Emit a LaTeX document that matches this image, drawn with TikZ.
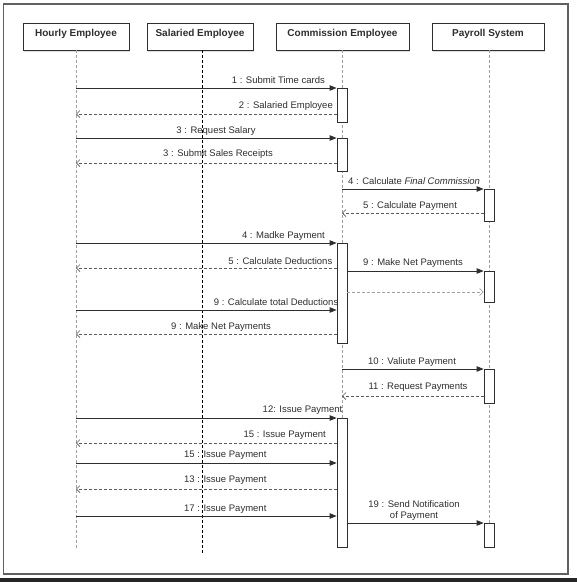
\documentclass[tikz,border=0pt]{standalone}
\usepackage{fontspec}
\setmainfont{Liberation Sans}
\usetikzlibrary{arrows.meta,calc,shadows}

\definecolor{ink}{HTML}{2E2E2E}
\definecolor{retgray}{HTML}{5A5A5A}
\definecolor{lifegray}{HTML}{A0A0A0}
\definecolor{framegray}{HTML}{606060}

\begin{document}
\begin{tikzpicture}[x=1pt,y=-1pt,
  head/.style={draw=ink, line width=0.8pt, fill=white, minimum width=#1,
    minimum height=27pt, inner sep=0pt, text height=7.2pt, text depth=7pt,
    font=\fontsize{10}{12}\selectfont\bfseries, text=ink,
    drop shadow={shadow xshift=1.2pt, shadow yshift=-1.5pt, fill=black, opacity=0.12}},
  life/.style={draw=lifegray, line width=0.7pt, dash pattern=on 3pt off 2pt},
  lifedark/.style={draw=black, line width=0.8pt, dash pattern=on 3pt off 2pt},
  act/.style={draw=ink, fill=white, line width=0.8pt, minimum width=10pt,
    inner sep=0pt, anchor=north},
  sync/.style={draw=ink, line width=0.8pt, -{Triangle[length=7pt,width=5.5pt]}},
  ret/.style={draw=retgray, line width=0.7pt, dash pattern=on 3pt off 2pt,
    -{Straight Barb[length=3.5pt,width=7pt]}},
  lbl/.style={font=\fontsize{9.5}{11}\selectfont, inner sep=0pt, text=ink},
]
\useasboundingbox (0,0) rectangle (577,582);

% outer frame and the bar along the bottom edge
\draw[framegray, line width=1.2pt] (3.5,4) rectangle (568,574);
\fill[black!85] (0,578) rectangle (577,582);

% lifeline axes
\coordinate (H) at (76,0);
\coordinate (S) at (202,0);
\coordinate (C) at (342,0);
\coordinate (P) at (489,0);

% participants
\node[head=106pt] (hourly)     at (76,36.5)  {Hourly Employee};
\node[head=106pt] (salaried)   at (200,36.5) {Salaried Employee};
\node[head=133pt] (commission) at (342.5,36.5) {Commission Employee};
\node[head=112pt] (payroll)    at (488,36.5) {Payroll System};

% lifelines
\draw[life]     (H |- hourly.south)     -- (H |- 0,550);
\draw[lifedark] (S |- salaried.south)   -- (S |- 0,554);
\draw[life]     (C |- commission.south) -- (C |- 0,550);
\draw[life]     (P |- payroll.south)    -- (P |- 0,550);

% activation bars
\node[act, minimum height=34pt]  (a1) at (342,88)  {};
\node[act, minimum height=33pt]  (a2) at (342,138) {};
\node[act, minimum height=100pt] (a3) at (342,243) {};
\node[act, minimum height=129pt] (a4) at (342,418) {};
\node[act, minimum height=32pt]  (p1) at (489,189) {};
\node[act, minimum height=31pt]  (p2) at (489,271) {};
\node[act, minimum height=34pt]  (p3) at (489,369) {};
\node[act, minimum height=24pt]  (p4) at (489,523) {};

% messages
\draw[sync] (H |- 0,88)  -- (a1.west |- 0,88);
\draw[ret]  (a1.west |- 0,114) -- (H |- 0,114);
\draw[sync] (H |- 0,138) -- (a2.west |- 0,138);
\draw[ret]  (a2.west |- 0,163) -- (H |- 0,163);
\draw[sync] (C |- 0,189) -- (p1.west |- 0,189);
\draw[ret]  (p1.west |- 0,213) -- (C |- 0,213);
\draw[sync] (H |- 0,243) -- (a3.west |- 0,243);
\draw[ret]  (a3.west |- 0,268) -- (H |- 0,268);
\draw[sync] (a3.east |- 0,271) -- (p2.west |- 0,271);
\draw[ret, draw=lifegray] (a3.east |- 0,292) -- (p2.west |- 0,292);
\draw[sync] (H |- 0,310) -- (a3.west |- 0,310);
\draw[ret]  (a3.west |- 0,334) -- (H |- 0,334);
\draw[sync] (C |- 0,369) -- (p3.west |- 0,369);
\draw[ret]  (p3.west |- 0,396) -- (C |- 0,396);
\draw[sync] (H |- 0,418) -- (a4.west |- 0,418);
\draw[ret]  (a4.west |- 0,443) -- (H |- 0,443);
\draw[sync] (H |- 0,463) -- (a4.west |- 0,463);
\draw[ret]  (a4.west |- 0,489) -- (H |- 0,489);
\draw[sync] (H |- 0,516) -- (a4.west |- 0,516);
\draw[sync] (a4.east |- 0,523) -- (p4.west |- 0,523);

% message labels
\node[lbl, anchor=base east] (l1)   at (325,83.5)  {1 : Submit Time cards};
\node[lbl, anchor=base east] (l2)   at (333,108.5) {2 : Salaried Employee};
\node[lbl, anchor=base]      (l3)   at (216,133.5) {3 : Request Salary};
\node[lbl, anchor=base]      (l3b)  at (218,156.5) {3 : Submit Sales Receipts};
\node[lbl, anchor=base west] (l4)   at (348,184.5) {4 : Calculate \textit{Final Commission}};
\node[lbl, anchor=base]      (l5)   at (410,208.5) {5 : Calculate Payment};
\node[lbl, anchor=base east] (l4b)  at (325,238.5) {4 : Madke Payment};
\node[lbl, anchor=base east] (l5b)  at (332.5,264.5) {5 : Calculate Deductions};
\node[lbl, anchor=base]      (l9a)  at (413,265.5) {9 : Make Net Payments};
\node[lbl, anchor=base east] (l9b)  at (338.5,305.5) {9 : Calculate total Deductions};
\node[lbl, anchor=base]      (l9c)  at (221,329.5) {9 : Make Net Payments};
\node[lbl, anchor=base]      (l10)  at (412,364.5) {10 : Valiute Payment};
\node[lbl, anchor=base]      (l11)  at (418,389.5) {11 : Request Payments};
\node[lbl, anchor=base east] (l12)  at (342.5,412.5) {12: Issue Payment};
\node[lbl, anchor=base east] (l15a) at (326,437.5) {15 : Issue Payment};
\node[lbl, anchor=base west] (l15b) at (184,457.5) {15 : Issue Payment};
\node[lbl, anchor=base west] (l13)  at (184,482.5) {13 : Issue Payment};
\node[lbl, anchor=base west] (l17)  at (184,511.5) {17 : Issue Payment};
\node[lbl, align=center]     (l19)  at (414,511)   {19 : Send Notification\\of Payment};
\end{tikzpicture}
\end{document}
